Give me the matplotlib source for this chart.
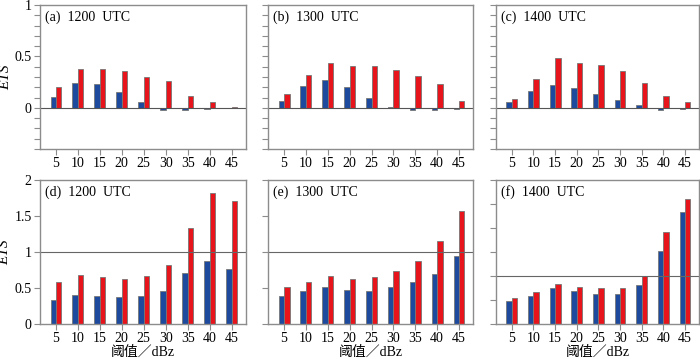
import numpy as np
import matplotlib.pyplot as plt

plt.rcParams['font.family'] = ['Liberation Serif', 'Noto Sans CJK SC']

# thresholds (dBz)
thresholds = [5, 10, 15, 20, 25, 30, 35, 40, 45]

# top row: ETS
ets_blue_12 = [0.11, 0.24, 0.23, 0.15, 0.055, -0.02, -0.02, -0.01, -0.005]
ets_red_12 = [0.20, 0.38, 0.38, 0.36, 0.30, 0.26, 0.12, 0.06, 0.005]
ets_blue_13 = [0.07, 0.21, 0.27, 0.20, 0.10, 0.01, -0.02, -0.02, -0.01]
ets_red_13 = [0.13, 0.32, 0.44, 0.41, 0.41, 0.37, 0.31, 0.23, 0.07]
ets_blue_14 = [0.055, 0.16, 0.22, 0.19, 0.13, 0.08, 0.03, -0.02, -0.01]
ets_red_14 = [0.09, 0.28, 0.48, 0.44, 0.42, 0.36, 0.24, 0.12, 0.06]

# bottom row
bias_blue_12 = [0.34, 0.40, 0.39, 0.37, 0.39, 0.46, 0.71, 0.88, 0.76]
bias_red_12 = [0.59, 0.68, 0.65, 0.62, 0.66, 0.82, 1.34, 1.82, 1.71]
bias_blue_13 = [0.39, 0.46, 0.52, 0.47, 0.46, 0.51, 0.58, 0.70, 0.94]
bias_red_13 = [0.51, 0.59, 0.66, 0.62, 0.65, 0.74, 0.88, 1.15, 1.57]
bias_blue_14 = [0.48, 0.59, 0.75, 0.68, 0.63, 0.63, 0.81, 1.53, 2.33]
bias_red_14 = [0.55, 0.66, 0.83, 0.77, 0.74, 0.75, 0.99, 1.92, 2.61]

titles = ['(a)  1200  UTC', '(b)  1300  UTC', '(c)  1400  UTC',
          '(d)  1200  UTC', '(e)  1300  UTC', '(f)  1400  UTC']

blue = '#1d4a9c'
red = '#e8141c'
grey = '#8c8c8c'

fig = plt.figure(figsize=(7, 3.59), dpi=100)

lefts = [0.0571, 0.383, 0.7086]
widths = [0.294, 0.293, 0.29]

top_data = [(ets_blue_12, ets_red_12), (ets_blue_13, ets_red_13), (ets_blue_14, ets_red_14)]
bot_data = [(bias_blue_12, bias_red_12), (bias_blue_13, bias_red_13), (bias_blue_14, bias_red_14)]

x = np.arange(1, len(thresholds) + 1)
w = 0.25

axes = []
for row, (data, bottom, height) in enumerate([(top_data, 0.585, 0.401),
                                              (bot_data, 0.0975, 0.401)]):
    for col in range(3):
        ax = fig.add_axes([lefts[col], bottom, widths[col], height])
        b, r = data[col]
        ax.bar(x - w / 2, b, w, color=blue, edgecolor='#777777', linewidth=0.6)
        ax.bar(x + w / 2, r, w, color=red, edgecolor='#777777', linewidth=0.6)
        ax.set_xlim(0.27, 9.65)
        ax.set_xticks(x)
        ax.set_xticklabels([str(t) for t in thresholds], fontsize=10)

        if row == 0:
            ax.set_ylim(-0.4, 1.0)
            ax.set_yticks(np.round(np.arange(-0.4, 1.01, 0.1), 1))
            ax.axhline(0, color='#555555', linewidth=0.8)
            labels = {1.0: '1', 0.5: '0.5', 0.0: '0'}
        elif col < 2:
            ax.set_ylim(0, 2)
            ax.set_yticks(np.arange(0, 2.01, 0.5))
            ax.axhline(1, color='#666666', linewidth=0.8)
            labels = {2.0: '2', 1.5: '1.5', 1.0: '1', 0.5: '0.5', 0.0: '0'}
        else:
            ax.set_ylim(0, 3)
            ax.set_yticks(np.arange(0, 3.01, 0.5))
            ax.axhline(1, color='#666666', linewidth=0.8)
            labels = {}

        if col == 0:
            ax.set_yticklabels([labels.get(round(v, 1), '') for v in ax.get_yticks()],
                               fontsize=10)
            ax.set_ylabel('ETS', fontsize=11, style='italic', labelpad=2)
        else:
            ax.set_yticklabels([])

        if row == 1:
            ax.set_xlabel('阈值／dBz', fontsize=10, labelpad=0)

        ax.tick_params(direction='out', length=4, width=0.8, color=grey, pad=2)
        for s in ax.spines.values():
            s.set_color(grey)
            s.set_linewidth(1.0)

        ax.text(0.025, 0.965, titles[row * 3 + col], transform=ax.transAxes,
                ha='left', va='top', fontsize=10)
        axes.append(ax)

fig.savefig('out.png', dpi=100)
